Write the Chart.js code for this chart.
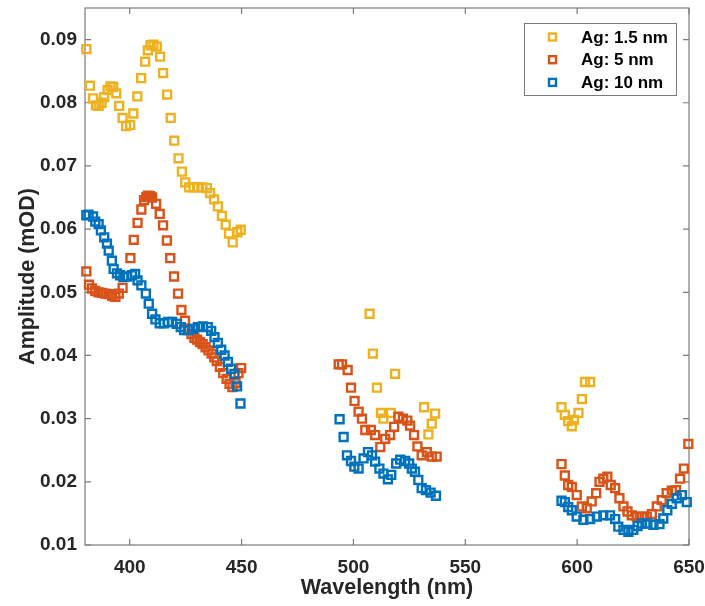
<!DOCTYPE html>
<html><head><meta charset="utf-8">
<script src="https://cdn.jsdelivr.net/npm/chart.js@4.4.0/dist/chart.umd.min.js"></script>
<style>html,body{margin:0;padding:0;background:#fff}#wrap{position:relative;width:705px;height:606px}</style>
</head><body><div id="wrap"><canvas id="c" width="705" height="606"></canvas></div>
<script>
// ---- data ----
const seriesLabels = ['Ag: 1.5 nm', 'Ag: 5 nm', 'Ag: 10 nm'];
const seriesColors = ['#EDB120', '#D95319', '#0072BD'];
const xTicks = [400, 450, 500, 550, 600, 650];
const yTicks = [0.01, 0.02, 0.03, 0.04, 0.05, 0.06, 0.07, 0.08, 0.09];

const wlAg15 = [380.6,382.2,383.6,384.9,386.1,387.4,388.6,390.1,391.4,392.6,394.0,395.3,396.8,398.4,400.2,401.6,403.4,405.1,406.9,408.1,409.3,410.6,412.1,413.6,414.9,416.7,418.3,419.9,421.8,423.3,424.8,426.6,428.5,430.4,432.5,434.5,435.9,437.7,439.4,441.2,442.9,444.4,446.0,448.1,449.6,
  507.2,508.7,510.5,512.3,513.4,516.7,518.6,531.6,533.5,535.0,536.5,
  593.0,594.5,596.0,597.6,598.6,600.6,602.1,603.5,605.8];
const ampAg15 = [0.0885,0.0827,0.0807,0.0796,0.0795,0.0800,0.0809,0.0820,0.0826,0.0825,0.0815,0.0795,0.0776,0.0763,0.0765,0.0783,0.0810,0.0839,0.0865,0.0883,0.0891,0.0892,0.0889,0.0873,0.0847,0.0813,0.0776,0.0740,0.0712,0.0691,0.0674,0.0666,0.0666,0.0666,0.0666,0.0665,0.0657,0.0647,0.0636,0.0621,0.0607,0.0593,0.0579,0.0595,0.0599,
  0.0466,0.0403,0.0349,0.0309,0.0300,0.0309,0.0371,0.0318,0.0275,0.0292,0.0308,
  0.0318,0.0306,0.0296,0.0288,0.0298,0.0309,0.0331,0.0358,0.0358];

const wlAg5 = [380.6,381.8,383.1,384.6,386.1,387.6,389.1,390.6,392.1,393.6,395.1,396.8,400.3,401.8,403.5,405.2,406.4,407.4,408.2,409.1,410.0,411.8,413.4,414.9,416.6,418.1,419.8,421.6,423.1,424.7,426.2,427.6,428.9,430.1,431.4,432.6,433.9,435.2,436.6,437.8,438.9,440.3,441.8,443.3,444.6,445.9,447.3,448.6,449.8,
  493.4,494.9,497.4,498.9,500.5,502.3,503.8,505.3,507.8,509.7,512.0,514.2,516.4,518.2,520.1,522.1,524.1,525.3,527.1,528.6,530.5,532.8,535.0,537.2,
  593.0,594.5,596.0,597.6,599.8,602.1,604.3,606.5,608.5,610.0,611.7,613.5,615.0,617.0,618.9,620.7,622.5,624.4,626.6,628.9,631.1,633.4,635.6,637.8,640.0,642.3,644.2,646.0,647.7,649.7];
const ampAg5 = [0.0533,0.0512,0.0506,0.0502,0.0500,0.0499,0.0498,0.0497,0.0494,0.0493,0.0498,0.0507,0.0554,0.0583,0.0610,0.0631,0.0646,0.0651,0.0653,0.0652,0.0650,0.0640,0.0624,0.0606,0.0582,0.0554,0.0525,0.0498,0.0472,0.0455,0.0442,0.0434,0.0428,0.0425,0.0421,0.0418,0.0413,0.0408,0.0403,0.0397,0.0391,0.0382,0.0372,0.0363,0.0355,0.0350,0.0356,0.0372,0.0380,
  0.0386,0.0386,0.0377,0.0349,0.0328,0.0311,0.0300,0.0282,0.0282,0.0274,0.0255,0.0268,0.0274,0.0287,0.0303,0.0300,0.0297,0.0289,0.0274,0.0256,0.0242,0.0247,0.0240,0.0240,
  0.0228,0.0210,0.0195,0.0192,0.0179,0.0161,0.0158,0.0169,0.0182,0.0200,0.0205,0.0208,0.0195,0.0190,0.0174,0.0161,0.0153,0.0147,0.0145,0.0145,0.0145,0.0149,0.0161,0.0171,0.0182,0.0186,0.0187,0.0205,0.0221,0.0260];

const wlAg10 = [380.6,381.6,383.6,384.6,386.1,387.1,388.6,389.8,390.6,392.0,392.8,394.3,395.7,397.2,398.7,401.0,402.4,403.5,405.2,407.2,408.5,410.0,411.5,413.4,415.3,417.1,419.0,421.0,422.8,424.3,426.0,428.3,430.5,432.7,434.9,436.4,437.9,439.4,440.9,442.4,443.9,445.3,446.8,448.0,449.5,
  493.8,495.6,497.1,498.9,500.4,502.3,504.5,506.5,508.3,509.7,511.6,513.4,515.4,516.9,519.1,520.9,523.1,524.9,526.1,527.5,529.0,530.5,532.4,534.5,536.9,
  593.0,594.5,596.0,597.6,599.8,602.8,605.8,608.8,611.7,614.7,617.0,618.4,620.7,622.9,625.1,627.0,629.0,631.4,634.1,636.8,638.5,640.3,642.3,644.5,646.8,649.0];
const ampAg10 = [0.0622,0.0623,0.0620,0.0612,0.0608,0.0598,0.0587,0.0577,0.0566,0.0550,0.0537,0.0530,0.0527,0.0524,0.0525,0.0527,0.0529,0.0519,0.0511,0.0498,0.0482,0.0466,0.0457,0.0451,0.0451,0.0453,0.0453,0.0450,0.0445,0.0440,0.0440,0.0442,0.0445,0.0446,0.0445,0.0439,0.0429,0.0420,0.0409,0.0400,0.0390,0.0379,0.0371,0.0351,0.0324,
  0.0299,0.0271,0.0242,0.0233,0.0224,0.0221,0.0237,0.0247,0.0242,0.0232,0.0221,0.0213,0.0204,0.0211,0.0229,0.0235,0.0233,0.0229,0.0221,0.0216,0.0203,0.0190,0.0187,0.0183,0.0178,
  0.0170,0.0168,0.0160,0.0155,0.0145,0.0140,0.0141,0.0145,0.0147,0.0147,0.0141,0.0129,0.0124,0.0121,0.0124,0.0130,0.0134,0.0134,0.0132,0.0133,0.0142,0.0155,0.0165,0.0174,0.0179,0.0168];

// ---- chart ----
const FONT = "'Liberation Sans', Arial, Helvetica, sans-serif";
Chart.defaults.font.family = FONT;
const toPts = (wl, amp) => wl.map((w, i) => ({x: w, y: amp[i]}));
const allWl = [wlAg15, wlAg5, wlAg10];
const allAmp = [ampAg15, ampAg5, ampAg10];

const datasets = seriesLabels.map((lab, k) => ({
  label: lab,
  data: toPts(allWl[k], allAmp[k]),
  pointStyle: 'rect',
  pointRadius: 5.6,
  pointBorderWidth: 2.4,
  pointBorderColor: seriesColors[k],
  pointBackgroundColor: 'rgba(255,255,255,0)',
  borderColor: seriesColors[k],
  showLine: false,
  clip: 12,
  order: 3 - k
}));

const frame = {
  id: 'frame',
  beforeDatasetsDraw(chart) {
    const {ctx, chartArea: a, scales: {x, y}} = chart;
    ctx.save();
    ctx.strokeStyle = '#7a7a7a';
    ctx.lineWidth = 1.2;
    ctx.strokeRect(a.left, a.top, a.right - a.left, a.bottom - a.top);
    ctx.beginPath();
    const tl = 6;
    xTicks.forEach(v => {
      const p = x.getPixelForValue(v);
      ctx.moveTo(p, a.bottom); ctx.lineTo(p, a.bottom - tl);
      ctx.moveTo(p, a.top); ctx.lineTo(p, a.top + tl);
    });
    yTicks.forEach(v => {
      const p = y.getPixelForValue(v);
      ctx.moveTo(a.left, p); ctx.lineTo(a.left + tl, p);
      ctx.moveTo(a.right, p); ctx.lineTo(a.right - tl, p);
    });
    ctx.stroke();
    ctx.restore();
  },
  afterDatasetsDraw(chart) {
    const {ctx, chartArea: a} = chart;
    const bw = 152, bh = 72;
    const bx = a.right - 13 - bw, by = a.top + 15;
    ctx.save();
    ctx.fillStyle = '#ffffff';
    ctx.fillRect(bx, by, bw, bh);
    ctx.strokeStyle = '#7a7a7a';
    ctx.lineWidth = 1;
    ctx.strokeRect(bx + 0.5, by + 0.5, bw, bh);
    ctx.font = 'bold 17px ' + FONT;
    ctx.textBaseline = 'middle';
    ctx.textAlign = 'left';
    seriesLabels.forEach((lab, k) => {
      const cy = by + 14 + k * 22.7;
      ctx.strokeStyle = seriesColors[k];
      ctx.lineWidth = 2.4;
      ctx.strokeRect(bx + 28.5 - 3.5, cy - 3.5, 7, 7);
      ctx.fillStyle = '#000000';
      ctx.fillText(lab, bx + 57, cy + 1);
    });
    ctx.restore();
  }
};

new Chart(document.getElementById('c'), {
  type: 'scatter',
  data: {datasets},
  options: {
    responsive: false,
    animation: false,
    devicePixelRatio: 1,
    layout: {padding: {top: 7, right: 16, left: 0, bottom: 0}},
    plugins: {legend: {display: false}, tooltip: {enabled: false}},
    scales: {
      x: {
        type: 'linear', min: 380, max: 650,
        grid: {display: false, drawTicks: false},
        border: {display: false},
        afterBuildTicks: s => { s.ticks = xTicks.map(v => ({value: v})); },
        afterFit: s => { s.height = 61; s.paddingLeft = 0; s.paddingRight = 0; },
        ticks: {padding: 11, color: '#262626', autoSkip: false, maxRotation: 0,
                font: {size: 19, weight: 'bold'}},
        title: {display: true, text: 'Wavelength (nm)', color: '#262626',
                font: {size: 21.5, weight: 'bold'}, padding: {top: 0, bottom: 5}}
      },
      y: {
        type: 'linear', min: 0.01, max: 0.095,
        grid: {display: false, drawTicks: false},
        border: {display: false},
        afterBuildTicks: s => { s.ticks = yTicks.map(v => ({value: v})); },
        afterFit: s => { s.width = 85; s.paddingTop = 0; s.paddingBottom = 0; },
        ticks: {padding: 8, color: '#262626', font: {size: 19, weight: 'bold'},
                callback: v => Number(v).toFixed(2)},
        title: {display: true, text: 'Amplitude (mOD)', color: '#262626',
                font: {size: 21.5, weight: 'bold'}, padding: {top: 15, bottom: 0}}
      }
    }
  },
  plugins: [frame]
});
</script></body></html>
